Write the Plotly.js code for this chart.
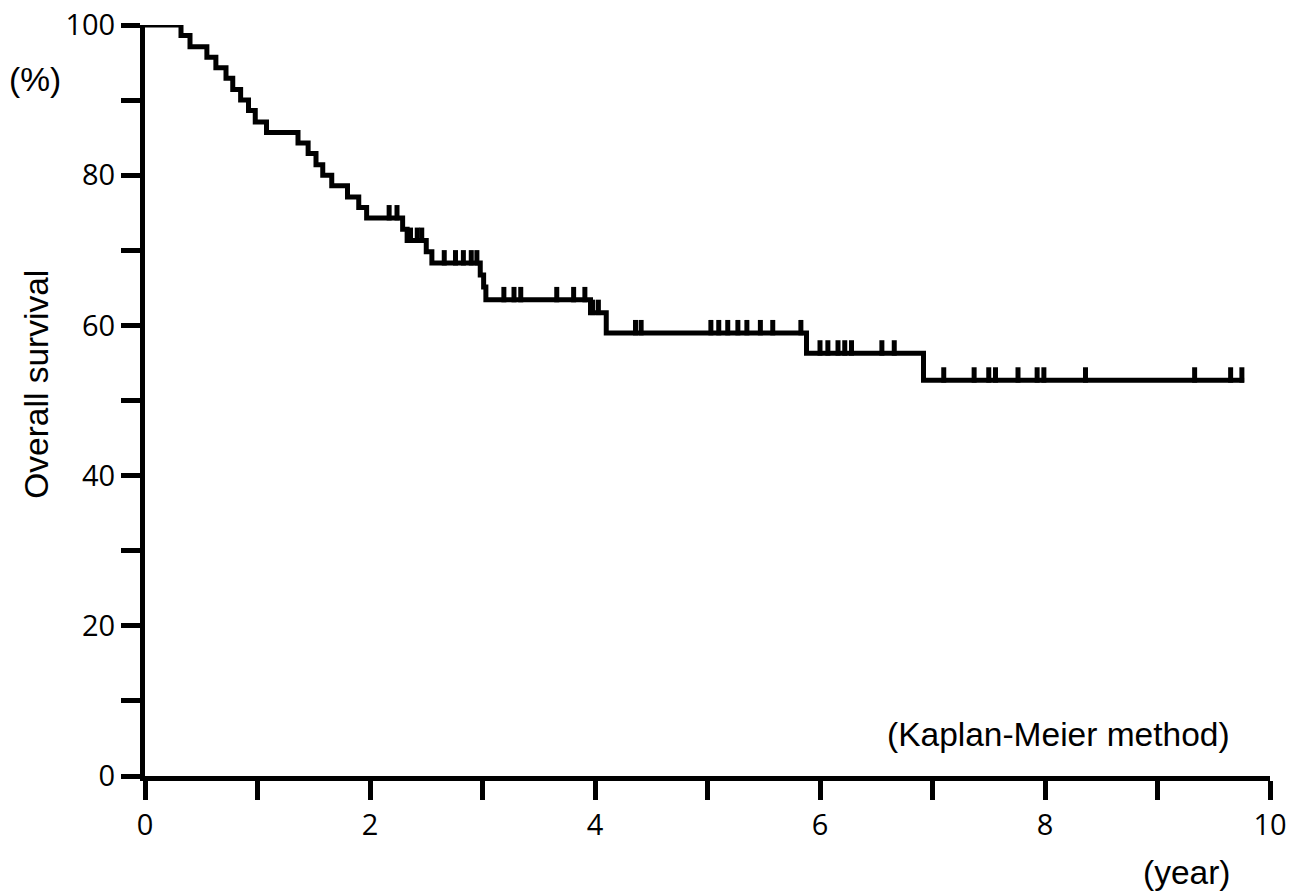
<!DOCTYPE html>
<html>
<head>
<meta charset="utf-8">
<script src="https://cdn.plot.ly/plotly-3.0.1.min.js"></script>
<style>html,body{margin:0;padding:0;background:#fff;}#chart{width:1306px;height:891px;}</style>
</head>
<body>
<div id="chart"></div>
<script>
// Kaplan-Meier step values
const eventTimes = [0.32,0.40,0.55,0.63,0.72,0.78,0.85,0.92,0.98,1.08,
                    1.36,1.45,1.52,1.58,1.66,1.80,1.90,1.97,
                    2.29,2.33,2.50,2.55,2.98,3.01,3.03,3.96,4.10,5.88,6.92];
const survival   = [98.6,97.1,95.7,94.3,92.9,91.4,90.0,88.6,87.1,85.7,
                    84.3,82.9,81.4,80.0,78.6,77.1,75.7,74.3,
                    72.8,71.3,69.8,68.3,66.7,65.1,63.4,61.7,59.0,56.3,52.7];
const censorTimes = [2.17,2.24,2.36,2.42,2.46,2.66,2.76,2.83,2.90,2.95,
                     3.19,3.28,3.34,3.66,3.81,3.91,3.98,4.03,4.36,4.41,
                     5.03,5.10,5.18,5.27,5.35,5.47,5.58,5.83,
                     6.00,6.07,6.16,6.22,6.28,6.55,6.66,
                     7.10,7.37,7.50,7.56,7.76,7.93,7.99,8.36,9.33,9.65,9.75];
const startSurvival = 100;
const endTime = 9.77;
const xTickVals = [0,1,2,3,4,5,6,7,8,9,10];
const xTickText = ['0','','2','','4','','6','','8','','10'];
const yTickVals = [0,10,20,30,40,50,60,70,80,90,100];
const yTickText = ['0','','20','','40','','60','','80','','100'];

function survAt(t){
  let s = startSurvival;
  for (let i=0;i<eventTimes.length;i++){ if (eventTimes[i] <= t) s = survival[i]; }
  return s;
}
const lineX = [0].concat(eventTimes, [endTime]);
const lineY = [startSurvival].concat(survival, [survival[survival.length-1]]);
const tickOffset = 0.7; // lift censor tick above the line (display only)
const censorY = censorTimes.map(t => survAt(t) + tickOffset);

const traces = [
  {x: lineX, y: lineY, mode: 'lines', line: {shape: 'hv', color: '#000', width: 5},
   cliponaxis: false, hoverinfo: 'skip'},
  {x: censorTimes, y: censorY, mode: 'markers', cliponaxis: false,
   marker: {symbol: 'line-ns', size: 11, line: {color: '#000', width: 5}}, hoverinfo: 'skip'}
];

const tickFont = {family: 'Open Sans, Noto Sans, sans-serif', size: 29, color: '#000'};
const txtFont = {family: 'Liberation Sans, Arial, sans-serif', size: 33.5, color: '#000'};
const layout = {
  width: 1306, height: 891,
  margin: {l: 145, r: 36, t: 25, b: 115},
  paper_bgcolor: '#fff', plot_bgcolor: '#fff',
  showlegend: false,
  xaxis: {range: [0, 10], tickvals: xTickVals, ticktext: xTickText, ticks: 'outside',
          ticklen: 19, tickwidth: 5, tickcolor: '#000', showline: true, linewidth: 5,
          linecolor: '#000', showgrid: false, zeroline: false, tickfont: tickFont, fixedrange: true},
  yaxis: {range: [0, 100], tickvals: yTickVals, ticktext: yTickText, ticks: 'outside',
          ticklen: 19, tickwidth: 5, tickcolor: '#000', showline: true, linewidth: 5,
          linecolor: '#000', showgrid: false, zeroline: false, tickfont: tickFont, fixedrange: true},
  annotations: [
    {text: 'Overall survival', xref: 'paper', yref: 'paper', x: -0.096, y: 0.521,
     xanchor: 'center', yanchor: 'middle', textangle: -90, showarrow: false, font: txtFont},
    {text: '(%)', xref: 'paper', yref: 'paper', x: -0.098, y: 0.927,
     xanchor: 'center', yanchor: 'middle', showarrow: false, font: txtFont},
    {text: '(year)', xref: 'paper', yref: 'paper', x: 0.966, y: -0.128,
     xanchor: 'right', yanchor: 'middle', showarrow: false, font: txtFont},
    {text: '(Kaplan-Meier method)', xref: 'paper', yref: 'paper', x: 0.966, y: 0.0546,
     xanchor: 'right', yanchor: 'middle', showarrow: false, font: txtFont}
  ]
};
Plotly.newPlot('chart', traces, layout, {staticPlot: true, displayModeBar: false});
</script>
</body>
</html>
